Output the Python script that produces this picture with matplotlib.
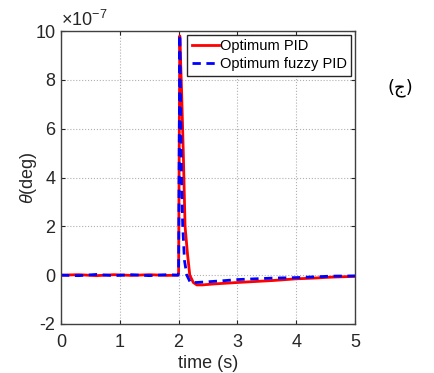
import matplotlib
matplotlib.use('Agg')
import matplotlib.pyplot as plt

plt.rcParams['font.family'] = ['Liberation Sans', 'DejaVu Sans']
plt.rcParams['mathtext.fontset'] = 'custom'
plt.rcParams['mathtext.rm'] = 'Liberation Sans'
plt.rcParams['mathtext.it'] = 'Liberation Sans:italic'
plt.rcParams['axes.unicode_minus'] = False

# time (s) and theta (units of 1e-7 deg)
t_pid = [0, 0.3, 0.6, 0.9, 1.2, 1.5, 1.8, 1.99, 2.0, 2.02, 2.05, 2.08, 2.11, 2.15, 2.19, 2.25,
         2.31, 2.4, 2.6, 2.8, 3.0, 3.3, 3.6, 4.0, 4.3, 4.6, 5.0]
y_pid = [0, 0.02, -0.02, 0.02, -0.01, 0.02, -0.01, 0.0, 0.1, 9.8, 7.6, 5.0, 2.0, 0.9, 0.0, -0.3,
         -0.4, -0.4, -0.36, -0.33, -0.3, -0.26, -0.22, -0.15, -0.12, -0.08, -0.05]

t_fuzzy = [0, 0.3, 0.6, 0.9, 1.2, 1.5, 1.8, 1.99, 2.0, 2.02, 2.04, 2.05, 2.07, 2.1, 2.14, 2.2,
           2.3, 2.5, 2.8, 3.0, 3.3, 3.6, 4.0, 4.3, 4.6, 5.0]
y_fuzzy = [0, -0.02, 0.03, -0.02, 0.02, -0.02, 0.02, 0.0, 0.1, 9.85, 6.0, 4.0, 2.0, 0.6, 0.0, -0.3,
           -0.3, -0.27, -0.22, -0.18, -0.15, -0.12, -0.1, -0.07, -0.04, -0.03]

xticks = [0, 1, 2, 3, 4, 5]
yticks = [-2, 0, 2, 4, 6, 8, 10]

fig = plt.figure(figsize=(4.34, 3.73), dpi=100)
ax = fig.add_axes([61 / 434, 1 - 324 / 373, 294 / 434, 293 / 373])

ax.plot(t_pid, y_pid, color='red', lw=2, label='Optimum PID')
ax.plot(t_fuzzy, y_fuzzy, color='blue', lw=2, ls=(0, (3, 2)), label='Optimum fuzzy PID')

ax.set_xlim(0, 5)
ax.set_ylim(-2, 10)
ax.set_xticks(xticks)
ax.set_yticks(yticks)

ax.grid(True, ls=':', color='#b0b0b0', lw=0.8)
ax.tick_params(direction='in', labelsize=13, colors='#262626', top=True, right=True, length=3)
ax.tick_params(axis='x', pad=7)
ax.tick_params(axis='y', pad=4)
for s in ax.spines.values():
    s.set_color('#404040')
    s.set_linewidth(1.0)

ax.text(0.0, 1.005, r'$\times10^{-7}$', transform=ax.transAxes, fontsize=13,
        color='#262626', ha='left', va='bottom')

ax.set_xlabel('time (s)', fontsize=13, color='#262626', labelpad=3)
ax.set_ylabel(r'$\it{\theta}$(deg)', fontsize=13, color='#262626', labelpad=-3)

leg = ax.legend(loc='upper right', fontsize=10.5, frameon=True, fancybox=False,
                borderpad=0.3, handlelength=1.85, handletextpad=0.1, labelspacing=0.3,
                borderaxespad=0.25)
leg.get_frame().set_edgecolor('#262626')
leg.get_frame().set_linewidth(1.0)
leg.get_frame().set_alpha(1)

fig.text(400 / 434, 1 - 88 / 373, '(ج)', fontsize=13, ha='center', va='center',
         family=['DejaVu Sans'])

fig.savefig('out.png', dpi=100)
